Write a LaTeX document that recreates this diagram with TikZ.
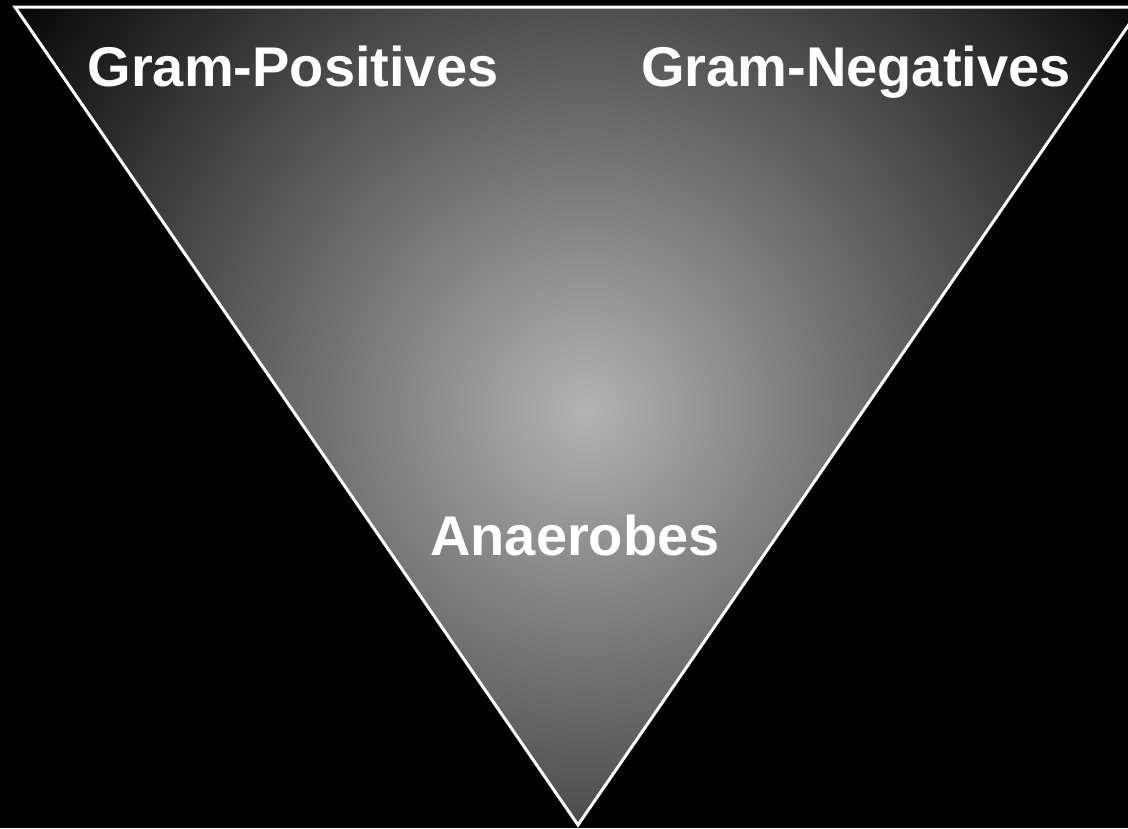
\documentclass[tikz,border=0pt]{standalone}
\usepackage{fontspec}
\setmainfont{Liberation Sans}
\usepackage{tikz}
\usetikzlibrary{positioning}
\tikzset{
    label/.style = {text=white, font=\fontsize{56}{60}\selectfont\bfseries, anchor=base, inner sep=0pt},
    funnel/.style = {draw=white, line width=3pt, line join=miter}
}

\begin{document}
\begin{tikzpicture}[x=1pt, y=-1pt]
                    % Background
                    \fill[black] (0,0) rectangle (1128,828);
                    \useasboundingbox (0,0) rectangle (1128,828);
                    
                    % Triangle corners
                    \coordinate (tl) at (15,7);
                    \coordinate (tr) at (1141,7);
                    \coordinate (bot) at (578,825);
                    
                    % Shaded funnel
                    \begin{scope}
                        \clip (tl) -- (tr) -- (bot) -- cycle;
                        \fill[black] (tl) -- (tr) -- (bot) -- cycle;
                        \shade[inner color=black!30, outer color=black] (585,410) circle (720);
                    \end{scope}
                    \draw[funnel] (tl) -- (tr) -- (bot) -- cycle;
                    
                    % Labels
                    \node[label] (pos) at (293,86) {Gram-Positives};
                    \node[label] (neg) at (856,86) {Gram-Negatives};
                    \node[label] (ana) at (575,555) {Anaerobes};
                \end{tikzpicture}
\end{document}
